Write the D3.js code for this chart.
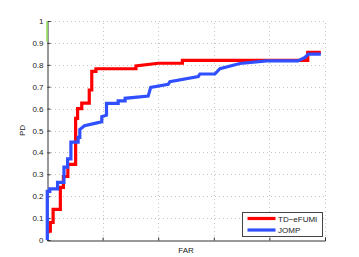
<!DOCTYPE html>
<html>
<head>
<meta charset="utf-8">
<script src="https://d3js.org/d3.v7.min.js"></script>
<style>
    body { margin: 0; background: #fff; }
    svg { display: block; font-family: "Liberation Sans", Arial, sans-serif; }
    .grid line { stroke: #c4c4c4; stroke-width: 1; stroke-dasharray: 1, 3; }
</style>
</head>
<body>
<div id="chart"></div>
<script>
// ROC-style curves, FAR vs PD
var yTicks = [0, 0.1, 0.2, 0.3, 0.4, 0.5, 0.6, 0.7, 0.8, 0.9, 1];
var xTicks = [0, 0.2, 0.4, 0.6, 0.8, 1];
var seriesNames = ["TD\u2212eFUMI", "JOMP"];
var seriesColors = ["#ff0000", "#3050ff"];

var tdFar = [0.004, 0.004, 0.012, 0.012, 0.022, 0.022, 0.048, 0.048, 0.059, 0.059, 0.075, 0.075, 0.103, 0.103, 0.11, 0.11, 0.125, 0.125, 0.152, 0.152, 0.161, 0.161, 0.176, 0.176, 0.32, 0.32, 0.40, 0.487, 0.487, 0.938, 0.938, 0.985];
var tdPd  = [0.03, 0.04, 0.04, 0.08, 0.08, 0.14, 0.14, 0.24, 0.24, 0.29, 0.29, 0.345, 0.345, 0.555, 0.555, 0.60, 0.60, 0.625, 0.625, 0.685, 0.685, 0.77, 0.77, 0.782, 0.782, 0.795, 0.807, 0.807, 0.82, 0.82, 0.857, 0.857];

var jompFar = [0.001, 0.001, 0.01, 0.01, 0.038, 0.038, 0.061, 0.061, 0.074, 0.074, 0.086, 0.086, 0.112, 0.112, 0.118, 0.118, 0.135, 0.18, 0.197, 0.197, 0.214, 0.214, 0.256, 0.256, 0.281, 0.281, 0.364, 0.373, 0.436, 0.442, 0.544, 0.55, 0.604, 0.622, 0.694, 0.79, 0.903, 0.928, 0.94, 0.985];
var jompPd  = [0, 0.222, 0.222, 0.233, 0.233, 0.263, 0.263, 0.333, 0.333, 0.37, 0.37, 0.447, 0.447, 0.469, 0.469, 0.505, 0.522, 0.535, 0.54, 0.563, 0.57, 0.624, 0.624, 0.635, 0.635, 0.647, 0.657, 0.697, 0.711, 0.723, 0.746, 0.758, 0.758, 0.782, 0.806, 0.818, 0.818, 0.834, 0.849, 0.849];

// short green trace along the y axis near the top
var greenFar = [0, 0];
var greenPd = [0.905, 1];

var width = 359, height = 257;
var margin = { left: 47, right: 34, top: 21, bottom: 17 };

var svg = d3.select("#chart").append("svg")
    .attr("width", width)
    .attr("height", height);

var x = d3.scaleLinear().domain([0, 1]).range([margin.left, width - margin.right]);
var y = d3.scaleLinear().domain([0, 1]).range([height - margin.bottom, margin.top]);

// grid
var grid = svg.append("g").attr("class", "grid");
grid.selectAll(".hg").data(yTicks.slice(1)).enter().append("line")
    .attr("x1", x(0)).attr("x2", x(1))
    .attr("y1", function (d) { return Math.round(y(d)) + 0.5; })
    .attr("y2", function (d) { return Math.round(y(d)) + 0.5; });
grid.selectAll(".vg").data(xTicks.slice(1)).enter().append("line")
    .attr("y1", y(0)).attr("y2", y(1))
    .attr("x1", function (d) { return Math.round(x(d)) + 0.5; })
    .attr("x2", function (d) { return Math.round(x(d)) + 0.5; });

// axes
var yAxis = d3.axisLeft(y).tickValues(yTicks).tickSize(-3).tickPadding(4)
    .tickFormat(function (d) { return d === 0 || d === 1 ? d3.format("d")(d) : d3.format(".1f")(d); });
var xAxis = d3.axisBottom(x).tickValues(xTicks).tickSize(-3).tickFormat("");

var gy = svg.append("g").attr("transform", "translate(" + (margin.left + 0.5) + ",0)").call(yAxis);
var gx = svg.append("g").attr("transform", "translate(0," + (y(0) + 0.5) + ")").call(xAxis);
[gy, gx].forEach(function (g) {
    g.select(".domain").attr("stroke", "#333");
    g.selectAll(".tick line").attr("stroke", "#333");
    g.selectAll(".tick text").attr("font-size", 8).attr("fill", "#222")
        .attr("font-family", "'Liberation Sans', Arial, sans-serif");
});

var line = d3.line()
    .x(function (d) { return x(d[0]); })
    .y(function (d) { return y(d[1]); });

svg.append("path")
    .attr("d", line(d3.zip(greenFar, greenPd)))
    .attr("fill", "none").attr("stroke", "#8fe05a").attr("stroke-width", 1.5);

svg.append("path")
    .attr("d", line(d3.zip(tdFar, tdPd)))
    .attr("fill", "none").attr("stroke", seriesColors[0]).attr("stroke-width", 3.2)
    .attr("stroke-linejoin", "miter");

svg.append("path")
    .attr("d", line(d3.zip(jompFar, jompPd)))
    .attr("fill", "none").attr("stroke", seriesColors[1]).attr("stroke-width", 3.2)
    .attr("stroke-linejoin", "miter");

// labels
svg.append("text")
    .attr("x", 186).attr("y", 253)
    .attr("text-anchor", "middle").attr("font-size", 8).attr("fill", "#222")
    .text("FAR");
svg.append("text")
    .attr("transform", "translate(25," + ((y(0) + y(1)) / 2) + ") rotate(-90)")
    .attr("text-anchor", "middle").attr("font-size", 8).attr("fill", "#222")
    .text("PD");

// legend
var legend = svg.append("g").attr("transform", "translate(242.5,212.5)");
legend.append("rect")
    .attr("width", 80).attr("height", 24)
    .attr("fill", "#fff").attr("stroke", "#444").attr("stroke-width", 1);
seriesNames.forEach(function (name, i) {
    var ly = 6 + i * 11.5;
    legend.append("line")
        .attr("x1", 5).attr("x2", 33).attr("y1", ly).attr("y2", ly)
        .attr("stroke", seriesColors[i]).attr("stroke-width", 3.2);
    legend.append("text")
        .attr("x", 35.5).attr("y", ly + 3)
        .attr("font-size", 8).attr("fill", "#222")
        .text(name);
});
</script>
</body>
</html>
